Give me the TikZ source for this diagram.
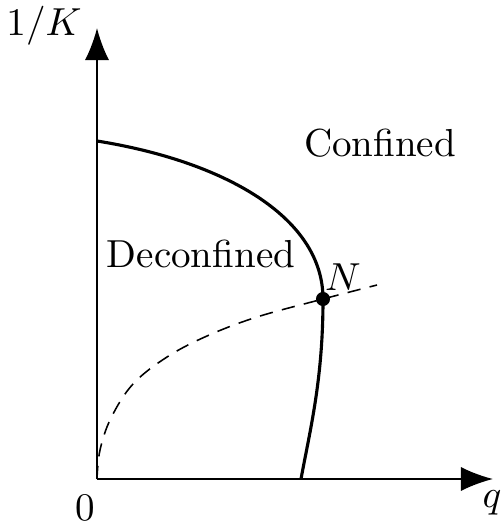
\documentclass[tikz,border=0pt]{standalone}
\usetikzlibrary{arrows.meta}
\begin{document}
\begin{tikzpicture}[x=0.256pt,y=-0.256pt,
  axis/.style={line width=0.5pt,-{Latex[length=8.2pt,width=6.2pt]}},
  phase/.style={line width=0.8pt},
  guide/.style={line width=0.4pt,dash pattern=on 3.4pt off 2.4pt},
  lbl/.style={inner sep=0pt,anchor=base}]
\useasboundingbox (0,0) rectangle (503,522);
\coordinate (O) at (97,479);
\coordinate (ytip) at (97,28);
\coordinate (xtip) at (493,479);
\coordinate (top) at (97,141);
\coordinate (N) at (323,299);
\coordinate (bot) at (301,479);
\coordinate (dend) at (377,285);
\draw[axis] (O) -- (ytip);
\draw[axis] (O) -- (xtip);
\draw[phase] (top) .. controls (222,161) and (323,216) .. (N)
  .. controls (323,380) and (310,430) .. (bot);
\draw[guide] plot[smooth,tension=0.6] coordinates {(97,479) (100,450) (111,418) (133,384) (167,357) (207,336) (257,317) (323,299) (377,285)};
\fill (N) circle (1.8pt);
\node[lbl] (Klabel) at (44,36) {$1/K$};
\node[lbl] (qlabel) at (492,507) {$q$};
\node[lbl] (zero) at (85,520) {$0$};
\node[lbl] (conf) at (380,156) {Confined};
\node[lbl] (deconf) at (201,267) {Deconfined};
\node[lbl] (Nlabel) at (343,290) {$N$};
\end{tikzpicture}
\end{document}
